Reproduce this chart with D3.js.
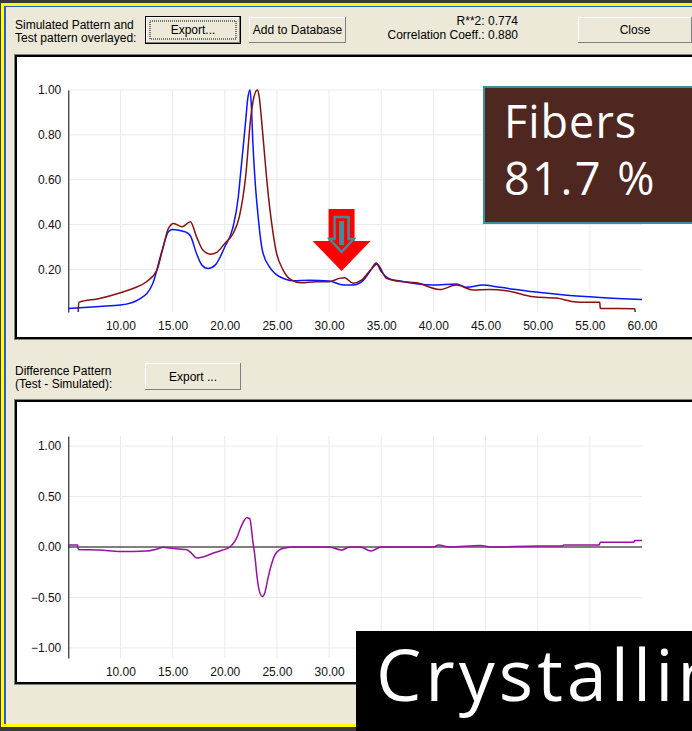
<!DOCTYPE html>
<html lang="en">
<head>
	<meta charset="UTF-8">
	<title>Simulated vs Test pattern</title>
	<script src="https://cdn.jsdelivr.net/npm/d3@7"></script>
	<style>
		*{
			margin: 0px;
			box-sizing: border-box;
		}
		html,body{
			width:692px;
			height:731px;
			overflow: hidden;
			background:#ece9d8;
		}
		.ui{
			font-family: "Liberation Sans", Arial, sans-serif;
			font-size: 12px;
			fill:#000;
		}
		.axis text{
			font-family: "Liberation Sans", Arial, sans-serif;
			font-size: 12px;
			fill:#111;
		}
		.axis line{
			stroke:none;
		}
		.axis path{
			stroke:#000;
		}
		.grid line{
			stroke:#ebebeb;
			stroke-width:1;
		}
		.curve{
			fill:none;
			stroke-width:1.5;
			stroke-linejoin:round;
		}
	</style>
</head>
<body>
	<svg id="svg"></svg>
	<script>
		// simulated pattern (blue)
		var simX = [5, 8, 10, 11.9, 13.1, 14.0, 14.6, 15.0, 16.0, 16.4, 16.7, 17.3, 17.8, 18.4, 19.1, 20.0, 20.8, 21.3, 21.5, 21.8, 22.0, 22.2, 22.42, 22.55, 22.7, 22.9, 23.2, 23.6, 24.3, 24.9, 25.9, 26.5, 28.1, 30.0, 31.4, 32.3, 33.3, 34.1, 34.5, 35.0, 35.7, 36.8, 40.0, 42.2, 43.2, 44.7, 46.4, 49.6, 52.8, 56.0, 60.0];
		var simY = [0.026, 0.035, 0.041, 0.07, 0.137, 0.286, 0.368, 0.378, 0.37, 0.363, 0.35, 0.27, 0.22, 0.204, 0.22, 0.30, 0.39, 0.524, 0.62, 0.762, 0.86, 0.96, 1.0, 0.93, 0.76, 0.6, 0.435, 0.286, 0.21, 0.179, 0.155, 0.149, 0.152, 0.148, 0.13, 0.13, 0.152, 0.204, 0.229, 0.19, 0.16, 0.148, 0.13, 0.135, 0.12, 0.13, 0.12, 0.10, 0.085, 0.075, 0.066];
		// test pattern (dark red)
		var testX = [5.95, 6.0, 8.0, 10.0, 11.2, 12.5, 13.5, 14.1, 14.6, 15.1, 15.9, 16.7, 17.3, 17.9, 18.6, 19.2, 20.0, 20.8, 21.4, 22.0, 22.5, 22.8, 23.12, 23.3, 23.5, 23.8, 24.0, 24.2, 24.5, 24.9, 25.6, 26.3, 27.3, 28.8, 30.0, 31.0, 31.5, 32.3, 33.1, 34.1, 34.6, 35.5, 36.5, 38.4, 40.6, 42.2, 43.8, 45.4, 47.0, 49.6, 51.8, 53.7, 55.95, 56.0, 59.3, 59.35];
		var testY = [0.01, 0.053, 0.07, 0.096, 0.115, 0.145, 0.197, 0.30, 0.383, 0.405, 0.39, 0.412, 0.345, 0.286, 0.268, 0.275, 0.316, 0.36, 0.435, 0.613, 0.88, 0.97, 1.0, 0.97, 0.88, 0.72, 0.613, 0.52, 0.405, 0.286, 0.197, 0.155, 0.14, 0.145, 0.145, 0.16, 0.163, 0.138, 0.152, 0.204, 0.224, 0.16, 0.148, 0.14, 0.11, 0.13, 0.108, 0.11, 0.105, 0.078, 0.072, 0.055, 0.053, 0.026, 0.025, 0.01];
		// difference pattern (test - simulated)
		var diffX = [5, 5.9, 5.95, 8, 10, 12.5, 13.5, 14.1, 14.7, 15.6, 16.3, 16.8, 17.3, 17.9, 18.9, 19.8, 20.5, 21.1, 21.6, 22.1, 22.4, 22.7, 22.9, 23.1, 23.3, 23.6, 23.85, 24.1, 24.4, 24.8, 25.2, 25.8, 26.5, 30, 31.2, 32, 33, 34, 35, 40, 40.5, 41.5, 44.5, 45.5, 50, 52.4, 52.5, 55.9, 56, 59.2, 59.3, 60];
		var diffY = [0.02, 0.02, -0.025, -0.03, -0.045, -0.04, -0.02, -0.003, -0.01, -0.02, -0.025, -0.06, -0.11, -0.1, -0.06, -0.03, 0, 0.08, 0.21, 0.29, 0.28, 0.05, -0.1, -0.3, -0.43, -0.49, -0.45, -0.33, -0.2, -0.08, -0.03, -0.01, 0, 0, -0.03, 0, 0, -0.04, 0, 0, 0.02, 0, 0.015, 0, 0.01, 0.01, 0.02, 0.02, 0.046, 0.046, 0.064, 0.064];

		var xTicks = [10, 15, 20, 25, 30, 35, 40, 45, 50, 55, 60];
		var diffLabelTicks = [10, 15, 20, 25, 30]; // the rest sit under the caption box
		var topTicks = [0.2, 0.4, 0.6, 0.8, 1.0];
		var diffTicks = [-1, -0.5, 0, 0.5, 1];

		var w = 692, h = 731;
		var svg = d3.select("#svg").attr("width", w).attr("height", h);

		// desktop behind the dialog
		svg.append("rect").attr("x", 0).attr("y", 0).attr("width", w).attr("height", h).attr("fill", "#3a3a3a");
		svg.append("rect").attr("x", 1).attr("y", 3).attr("width", w).attr("height", 724).attr("fill", "#ffff00");
		svg.append("rect").attr("x", 4).attr("y", 6).attr("width", w).attr("height", 718).attr("fill", "#2a5ad8");
		svg.append("rect").attr("x", 6).attr("y", 7).attr("width", w).attr("height", 717).attr("fill", "#ece9d8");

		function button(x, y, bw, bh, label, focus) {
			var g = svg.append("g");
			if (focus) {
				g.append("rect").attr("x", x - 1).attr("y", y - 1).attr("width", bw + 2).attr("height", bh + 2).attr("fill", "#000");
			}
			g.append("rect").attr("x", x).attr("y", y).attr("width", bw).attr("height", bh).attr("fill", "#808080");
			g.append("rect").attr("x", x).attr("y", y).attr("width", bw - 1).attr("height", bh - 1).attr("fill", "#fff");
			g.append("rect").attr("x", x + 1).attr("y", y + 1).attr("width", bw - 2).attr("height", bh - 2).attr("fill", "#ece9d8");
			if (focus) {
				g.append("rect").attr("x", x + 4).attr("y", y + 4).attr("width", bw - 8).attr("height", bh - 8)
					.attr("fill", "none").attr("stroke", "#000").attr("stroke-dasharray", "1,1");
			}
			g.append("text").attr("class", "ui").attr("x", x + bw / 2).attr("y", y + bh / 2 + 4)
				.attr("text-anchor", "middle").text(label);
		}

		// header
		svg.append("text").attr("class", "ui").attr("x", 15).attr("y", 29).text("Simulated Pattern and");
		svg.append("text").attr("class", "ui").attr("x", 15).attr("y", 42).text("Test pattern overlayed:");
		button(146, 17, 94, 26, "Export...", true);
		button(249, 17, 97, 26, "Add to Database", false);
		svg.append("text").attr("class", "ui").attr("x", 518).attr("y", 25).attr("text-anchor", "end").text("R**2: 0.774");
		svg.append("text").attr("class", "ui").attr("x", 518).attr("y", 39).attr("text-anchor", "end").text("Correlation Coeff.: 0.880");
		button(578, 17, 114, 26, "Close", false);

		svg.append("text").attr("class", "ui").attr("x", 15).attr("y", 375).text("Difference Pattern");
		svg.append("text").attr("class", "ui").attr("x", 15).attr("y", 388).text("(Test - Simulated):");
		button(145, 363, 96, 27, "Export ...", false);

		function frame(y0, fh) {
			svg.append("rect").attr("x", 14).attr("y", y0 - 1).attr("width", 680).attr("height", fh + 2).attr("fill", "#808080");
			svg.append("rect").attr("x", 15).attr("y", y0).attr("width", 680).attr("height", fh).attr("fill", "#000");
			svg.append("rect").attr("x", 17).attr("y", y0 + 2).attr("width", 680).attr("height", fh - 4).attr("fill", "#fff");
		}
		frame(55, 284);
		frame(400, 284);

		var x = d3.scaleLinear().domain([5, 60]).range([68.3, 642]);
		var yTop = d3.scaleLinear().domain([0.01, 1.0]).range([312, 90]);
		var yDiff = d3.scaleLinear().domain([-1.1, 1.1]).range([658, 436]);

		function grid(yScale, yTicksGrid) {
			var g = svg.append("g").attr("class", "grid");
			g.selectAll(".v").data(xTicks.slice(0, -1)).enter().append("line")
				.attr("x1", function(d) { return x(d); }).attr("x2", function(d) { return x(d); })
				.attr("y1", yScale.range()[1]).attr("y2", yScale.range()[0]);
			g.selectAll(".h").data(yTicksGrid).enter().append("line")
				.attr("x1", x(5)).attr("x2", x(60))
				.attr("y1", function(d) { return yScale(d); }).attr("y2", function(d) { return yScale(d); });
		}
		grid(yTop, topTicks);
		grid(yDiff, [-1, -0.5, 0.5, 1]);

		function axes(yScale, yTicks, xLabels) {
			var ax = svg.append("g").attr("class", "axis")
				.attr("transform", "translate(0," + yScale.range()[0] + ")")
				.call(d3.axisBottom(x).tickValues(xLabels).tickSize(0).tickPadding(9).tickFormat(d3.format(".2f")));
			ax.select(".domain").remove();
			svg.append("g").attr("class", "axis")
				.attr("transform", "translate(" + x(5) + ",0)")
				.call(d3.axisLeft(yScale).tickValues(yTicks).tickSize(0).tickSizeOuter(0).tickPadding(7).tickFormat(d3.format(".2f")));
		}
		axes(yTop, topTicks, xTicks);
		axes(yDiff, diffTicks, diffLabelTicks);

		// zero line of the difference plot
		svg.append("line").attr("x1", x(5)).attr("x2", x(60)).attr("y1", yDiff(0)).attr("y2", yDiff(0))
			.attr("stroke", "#000").attr("stroke-width", 1);

		function curve(xs, ys, yScale, color) {
			var pts = xs.map(function(d, i) { return [d, ys[i]]; });
			svg.append("path").attr("class", "curve")
				.attr("d", d3.line().curve(d3.curveMonotoneX)
					.x(function(d) { return x(d[0]); }).y(function(d) { return yScale(d[1]); })(pts))
				.attr("stroke", color);
		}
		curve(simX, simY, yTop, "#0a14ff");
		curve(testX, testY, yTop, "#8a1010");
		curve(diffX, diffY, yDiff, "#9a10a0");

		// red arrow marker over the 31 deg peak
		var ax0 = x(31.2), ay0 = 209;
		svg.append("path")
			.attr("d", "M" + (ax0 - 13) + "," + ay0 + "h26v32h16l-29,30l-29,-30h16z")
			.attr("fill", "#ff0000");
		svg.append("path")
			.attr("d", "M" + (ax0 - 7) + "," + (ay0 + 8) + "h14v22h5l-12,13l-12,-13h5z")
			.attr("fill", "#ff0000").attr("stroke", "#3f8c9c").attr("stroke-width", 2.5);
		svg.append("rect").attr("x", ax0 - 2.5).attr("y", ay0 + 12).attr("width", 5).attr("height", 24).attr("fill", "#3f8c9c");

		// overlay labels
		svg.append("rect").attr("x", 484).attr("y", 87).attr("width", 220).attr("height", 136)
			.attr("fill", "#4e2820").attr("stroke", "#3f8c9c").attr("stroke-width", 2);
		svg.append("text").attr("x", 504).attr("y", 138).attr("fill", "#fff")
			.style("font-family", "'Open Sans', sans-serif").style("font-size", "45px").style("letter-spacing", "1px").text("Fibers");
		svg.append("text").attr("x", 504).attr("y", 195).attr("fill", "#fff")
			.style("font-family", "'Open Sans', sans-serif").style("font-size", "45px").style("letter-spacing", "2.5px").text("81.7 %");

		svg.append("rect").attr("x", 356).attr("y", 631).attr("width", 340).attr("height", 100).attr("fill", "#000");
		svg.append("text").attr("x", 376).attr("y", 701).attr("fill", "#fff")
			.style("font-family", "'Open Sans', sans-serif").style("font-size", "72px").style("letter-spacing", "4px")
			.text("Crystalline");
	</script>
</body>
</html>
